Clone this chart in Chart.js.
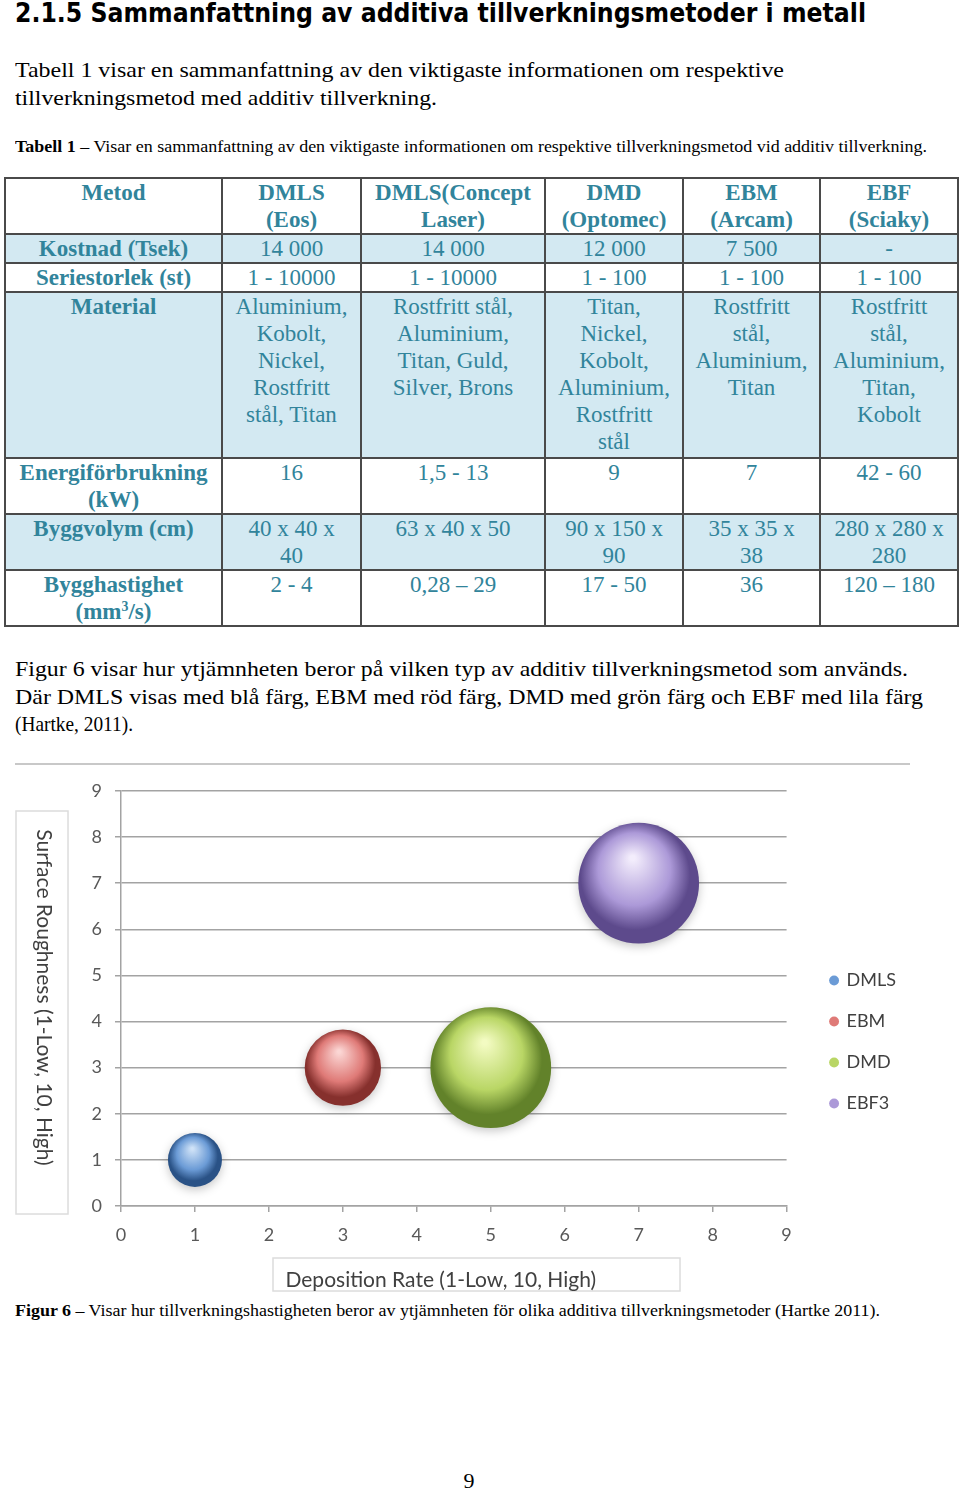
<!DOCTYPE html>
<html>
<head>
<meta charset="utf-8">
<script src="https://cdn.jsdelivr.net/npm/chart.js"></script>
<style>
  body { margin: 0; background: #fff; }
  .page { position: relative; width: 960px; height: 1491px; overflow: hidden;
          font-family: "Liberation Serif", "Times New Roman", serif; color: #000; }
  .line { position: absolute; left: 15px; white-space: nowrap; }
  .fit { display: inline-block; transform-origin: 0 0; }
  .h1 { font-family: "DejaVu Sans", Verdana, sans-serif; font-weight: bold; font-size: 26px; line-height: 30px; }
  .body { font-size: 22px; line-height: 27.5px; }
  .cap { font-size: 16px; line-height: 20px; }
  table.sum { position: absolute; left: 4px; top: 177px; width: 953px; border-collapse: collapse;
              table-layout: fixed; font-family: "Liberation Serif", serif; font-size: 23px; line-height: 27px; color: #31849b; }
  table.sum td { border: 2px solid #4a4a4a; padding: 0; text-align: center; vertical-align: top;
                 white-space: nowrap; overflow: hidden; }
  table.sum td.b { font-weight: bold; }
  table.sum tr.shade td { background: #d3e9f2; }
  sup { font-size: 60%; line-height: 0; vertical-align: 0.6em; }
  .chart-box { position: absolute; left: 15px; top: 763px; width: 905px; height: 530px; }
  .pnum { position: absolute; left: 0; width: 938px; top: 1467px; text-align: center; font-size: 22px; line-height: 27.5px; }
</style>
</head>
<body>
<div class="page">

  <div class="line h1" style="top:-2px"><span class="fit" data-w="851">2.1.5 Sammanfattning av additiva tillverkningsmetoder i metall</span></div>

  <div class="line body" style="top:56px"><span class="fit" data-w="769">Tabell 1 visar en sammanfattning av den viktigaste informationen om respektive</span></div>
  <div class="line body" style="top:83.5px"><span class="fit" data-w="422">tillverkningsmetod med additiv tillverkning.</span></div>

  <div class="line cap" style="top:137px"><span class="fit" data-w="912"><b>Tabell 1</b> – Visar en sammanfattning av den viktigaste informationen om respektive tillverkningsmetod vid additiv tillverkning.</span></div>

  <table class="sum">
    <colgroup>
      <col style="width:217px"><col style="width:139px"><col style="width:184px">
      <col style="width:138px"><col style="width:137px"><col style="width:138px">
    </colgroup>
    <tr style="height:56px">
      <td class="b">Metod</td><td class="b">DMLS<br>(Eos)</td><td class="b">DMLS(Concept<br>Laser)</td>
      <td class="b">DMD<br>(Optomec)</td><td class="b">EBM<br>(Arcam)</td><td class="b">EBF<br>(Sciaky)</td>
    </tr>
    <tr class="shade" style="height:29px">
      <td class="b">Kostnad (Tsek)</td><td>14 000</td><td>14 000</td><td>12 000</td><td>7 500</td><td>-</td>
    </tr>
    <tr style="height:28px">
      <td class="b">Seriestorlek (st)</td><td>1 - 10000</td><td>1 - 10000</td><td>1 - 100</td><td>1 - 100</td><td>1 - 100</td>
    </tr>
    <tr class="shade" style="height:166px">
      <td class="b">Material</td>
      <td>Aluminium,<br>Kobolt,<br>Nickel,<br>Rostfritt<br>stål, Titan</td>
      <td>Rostfritt stål,<br>Aluminium,<br>Titan, Guld,<br>Silver, Brons</td>
      <td>Titan,<br>Nickel,<br>Kobolt,<br>Aluminium,<br>Rostfritt<br>stål</td>
      <td>Rostfritt<br>stål,<br>Aluminium,<br>Titan</td>
      <td>Rostfritt<br>stål,<br>Aluminium,<br>Titan,<br>Kobolt</td>
    </tr>
    <tr style="height:56px">
      <td class="b">Energiförbrukning<br>(kW)</td><td>16</td><td>1,5 - 13</td><td>9</td><td>7</td><td>42 - 60</td>
    </tr>
    <tr class="shade" style="height:56px">
      <td class="b">Byggvolym (cm)</td><td>40 x 40 x<br>40</td><td>63 x 40 x 50</td><td>90 x 150 x<br>90</td><td>35 x 35 x<br>38</td><td>280 x 280 x<br>280</td>
    </tr>
    <tr style="height:56px">
      <td class="b">Bygghastighet<br>(mm<sup>3</sup>/s)</td><td>2 - 4</td><td>0,28 – 29</td><td>17 - 50</td><td>36</td><td>120 – 180</td>
    </tr>
  </table>

  <div class="line body" style="top:655px"><span class="fit" data-w="893">Figur 6 visar hur ytjämnheten beror på vilken typ av additiv tillverkningsmetod som används.</span></div>
  <div class="line body" style="top:682.5px"><span class="fit" data-w="908">Där DMLS visas med blå färg, EBM med röd färg, DMD med grön färg och EBF med lila färg</span></div>
  <div class="line body" style="top:710px"><span class="fit" data-w="118">(Hartke, 2011).</span></div>

  <div class="chart-box"><canvas id="bubbleChart" width="905" height="530"></canvas></div>

  <div class="line cap" style="top:1301px"><span class="fit" data-w="865"><b>Figur 6</b> – Visar hur tillverkningshastigheten beror av ytjämnheten för olika additiva tillverkningsmetoder (Hartke 2011).</span></div>

  <div class="pnum">9</div>
</div>

<script>
// squeeze scanned text lines to their measured widths
document.querySelectorAll('.fit').forEach(function (el) {
    const w = el.getBoundingClientRect().width;
    el.style.transform = 'scaleX(' + (Number(el.dataset.w) / w) + ')';
});

const methods = ['DMLS', 'EBM', 'DMD', 'EBF3'];
const depositionRate = [1, 3, 5, 7];
const surfaceRoughness = [1, 3, 3, 7];
const bubbleSize = [1, 2, 5, 5];
const axisTicks = [0, 1, 2, 3, 4, 5, 6, 7, 8, 9];
const xTitle = 'Deposition Rate (1-Low, 10, High)';
const yTitle = 'Surface Roughness (1-Low, 10, High)';

const sphereColors = [
    { light: '#cfe2f7', mid: '#6b9bd6', dark: '#2a5286' },
    { light: '#fbd6d4', mid: '#df7a77', dark: '#86302d' },
    { light: '#f3fbc2', mid: '#b9d665', dark: '#62822a' },
    { light: '#f3edfc', mid: '#ac99d8', dark: '#5d4a8c' }
];
const baseRadius = 27;

function sphere(c) {
    const col = sphereColors[c.datasetIndex];
    if (c.type !== 'data' || !c.raw) return col.mid;
    const chart = c.chart;
    const px = chart.scales.x.getPixelForValue(c.raw.x);
    const py = chart.scales.y.getPixelForValue(c.raw.y);
    const r = c.raw.r;
    if (!isFinite(px) || !isFinite(py)) return col.mid;   // scales not laid out yet
    const g = chart.ctx.createRadialGradient(px - r * 0.1, py - r * 0.42, r * 0.04, px - r * 0.05, py - r * 0.08, r * 1.06);
    g.addColorStop(0, col.light);
    g.addColorStop(0.55, col.mid);
    g.addColorStop(0.85, col.dark);
    g.addColorStop(1, col.dark);
    return g;
}

// title boxes, top rule, sphere shadows and both axis titles
const decor = {
    id: 'decor',
    beforeDraw(chart) {
        const ctx = chart.ctx;
        ctx.save();
        ctx.strokeStyle = '#c8c8c8';
        ctx.lineWidth = 2;
        ctx.beginPath(); ctx.moveTo(0, 1); ctx.lineTo(895, 1); ctx.stroke();
        ctx.strokeStyle = '#dcdcdc';
        ctx.lineWidth = 1.5;
        ctx.strokeRect(1, 48, 52, 403);
        ctx.strokeRect(258, 495, 407, 33);
        ctx.restore();
    },
    beforeDatasetsDraw(chart) {
        const ctx = chart.ctx;
        ctx.save();
        ctx.shadowColor = 'rgba(0,0,0,0.22)';
        ctx.shadowBlur = 10;
        ctx.shadowOffsetY = 3;
    },
    afterDatasetsDraw(chart) {
        chart.ctx.restore();
    },
    afterDraw(chart) {
        const ctx = chart.ctx, a = chart.chartArea;
        ctx.save();
        ctx.font = '21px Lato';
        ctx.fillStyle = '#404040';
        ctx.textAlign = 'center';
        ctx.textBaseline = 'middle';
        ctx.fillText(xTitle, (a.left + a.right) / 2 - 13, 517);
        ctx.translate(29, (a.top + a.bottom) / 2 - 1);
        ctx.rotate(Math.PI / 2);
        ctx.fillText(yTitle, 0, 0);
        ctx.restore();
    }
};

const gridColor = '#a3a3a3';

new Chart(document.getElementById('bubbleChart'), {
    type: 'bubble',
    data: {
        datasets: methods.map((m, i) => ({
            label: m,
            data: [{ x: depositionRate[i], y: surfaceRoughness[i], r: baseRadius * Math.sqrt(bubbleSize[i]) }],
            backgroundColor: sphere,
            borderWidth: 0,
            hoverBorderWidth: 0,
            clip: false
        }))
    },
    options: {
        responsive: false,
        animation: false,
        events: [],
        layout: { autoPadding: false, padding: { top: 28, right: 14, left: 0, bottom: 0 } },
        plugins: {
            tooltip: { enabled: false },
            legend: {
                position: 'right',
                labels: {
                    font: { family: 'Lato', size: 18 },
                    color: '#404040',
                    usePointStyle: true,
                    boxWidth: 7,
                    boxHeight: 7,
                    padding: 23,
                    generateLabels: function (chart) {
                        return chart.data.datasets.map((ds, i) => ({
                            text: ds.label,
                            fillStyle: sphereColors[i].mid,
                            strokeStyle: sphereColors[i].mid,
                            lineWidth: 0,
                            pointStyle: 'circle',
                            fontColor: '#404040',
                            hidden: !chart.isDatasetVisible(i),
                            datasetIndex: i
                        }));
                    }
                }
            }
        },
        scales: {
            x: {
                type: 'linear',
                min: 0, max: 9,
                afterBuildTicks: s => { s.ticks = axisTicks.map(v => ({ value: v })); },
                afterFit: s => { s.height = 87; },
                grid: { drawOnChartArea: false, color: gridColor, lineWidth: 1.5, tickLength: 6 },
                border: { color: gridColor, width: 1.5 },
                ticks: { font: { family: 'Lato', size: 18 }, color: '#595959', padding: 12 }
            },
            y: {
                type: 'linear',
                position: 'left',
                min: 0, max: 9,
                afterBuildTicks: s => { s.ticks = axisTicks.map(v => ({ value: v })); },
                afterFit: s => { s.width = 106; },
                grid: { color: gridColor, lineWidth: 1.5, tickLength: 6 },
                border: { color: gridColor, width: 1.5 },
                ticks: { font: { family: 'Lato', size: 18 }, color: '#595959', padding: 13 }
            },
            gap: {
                type: 'linear',
                position: 'right',
                display: true,
                grid: { display: false, drawTicks: false },
                border: { display: false },
                ticks: { display: false },
                afterFit: s => { s.width = 21; }
            }
        }
    },
    plugins: [decor]
});
</script>
</body>
</html>
